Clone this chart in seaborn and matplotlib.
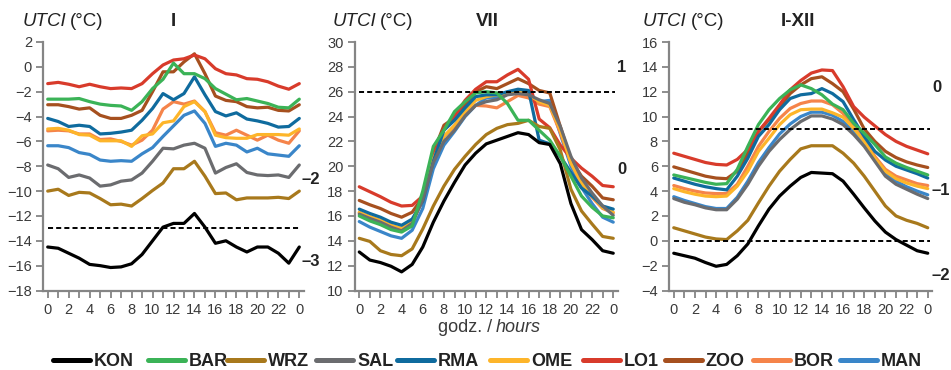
import numpy as np
import pandas as pd
import seaborn as sns
import matplotlib
matplotlib.use("Agg")
import matplotlib.pyplot as plt
from matplotlib.lines import Line2D

# hours 0..23 and back to 0 (shown as 24 on the axis)
hours = list(range(25))
hour_labels = [str(h % 24) if h % 2 == 0 else "" for h in hours]

stations = ["KON", "BAR", "WRZ", "SAL", "RMA", "OME", "LO1", "ZOO", "BOR", "MAN"]
colors = ["#000000", "#3bb357", "#a8791c", "#6b6c6f", "#0f6b9e",
          "#fdb52a", "#d83b2b", "#a6501f", "#f5844a", "#3a86c9"]

# January (I)
jan_kon = [-14.5, -14.6, -15.0, -15.4, -15.9, -16.0, -16.15, -16.1, -15.85, -15.1, -14.0, -12.9, -12.6,
           -12.6, -11.8, -12.9, -14.2, -14.0, -14.5, -14.9, -14.5, -14.5, -15.0, -15.8, -14.5]
jan_bar = [-2.6, -2.6, -2.6, -2.55, -2.8, -3.0, -3.1, -3.15, -3.5, -2.8, -1.75, -1.0, 0.3,
           -0.55, -0.55, -0.95, -1.75, -2.2, -2.65, -2.55, -2.75, -2.95, -3.25, -3.3, -2.6]
jan_wrz = [-10.0, -9.85, -10.35, -10.1, -10.15, -10.6, -11.1, -11.05, -11.2, -10.6, -9.95, -9.35, -8.2,
           -8.2, -7.6, -8.8, -10.2, -10.15, -10.7, -10.55, -10.55, -10.55, -10.5, -10.6, -10.0]
jan_sal = [-7.9, -8.2, -8.9, -8.7, -8.95, -9.6, -9.5, -9.2, -9.1, -8.55, -7.6, -6.55, -6.6,
           -6.3, -6.15, -6.55, -8.55, -8.1, -7.8, -8.5, -8.7, -8.75, -8.7, -8.9, -7.9]
jan_rma = [-4.15, -4.4, -4.8, -4.7, -4.8, -5.4, -5.35, -5.25, -5.1, -4.3, -3.35, -2.15, -2.65,
           -2.15, -0.8, -2.25, -3.6, -3.95, -3.7, -4.2, -4.35, -4.55, -4.85, -4.8, -4.15]
jan_ome = [-5.0, -4.95, -5.1, -5.45, -5.5, -5.95, -5.95, -5.95, -6.4, -5.55, -5.4, -4.5, -4.35,
           -3.2, -2.8, -3.6, -5.5, -5.7, -5.75, -5.75, -5.45, -5.45, -5.45, -5.5, -5.0]
jan_lo1 = [-1.35, -1.25, -1.4, -1.6, -1.4, -1.6, -1.75, -1.7, -1.75, -1.35, -0.55, 0.15, 0.55,
           0.65, 0.95, 0.65, -0.15, -0.55, -0.65, -0.95, -1.0, -1.2, -1.55, -1.8, -1.35]
jan_zoo = [-3.05, -3.05, -3.2, -3.4, -3.3, -3.9, -4.15, -4.15, -3.9, -3.5, -2.0, -0.4, -0.4,
           0.4, 1.05, -0.55, -2.35, -2.7, -2.8, -3.2, -3.3, -3.25, -3.5, -3.55, -3.05]
jan_bor = [-5.15, -5.1, -5.15, -5.4, -5.4, -5.85, -5.8, -6.0, -6.3, -5.9, -5.1, -3.4, -2.8,
           -3.0, -2.75, -3.6, -5.3, -5.5, -5.1, -5.5, -5.9, -5.5, -5.9, -6.15, -5.15]
jan_man = [-6.35, -6.35, -6.5, -6.9, -7.05, -7.5, -7.6, -7.55, -7.6, -7.0, -6.5, -5.6, -4.75,
           -3.9, -3.55, -4.55, -6.4, -6.15, -6.3, -6.85, -6.55, -7.0, -7.1, -7.2, -6.35]

# July (VII)
jul_kon = [13.1, 12.45, 12.25, 11.95, 11.5, 12.1, 13.5, 15.5, 17.2, 18.7, 20.1, 21.05, 21.8,
           22.1, 22.4, 22.7, 22.55, 21.9, 21.75, 20.2, 17.0, 14.9, 14.1, 13.2, 13.0]
jul_bar = [16.0, 15.6, 15.3, 14.9, 14.7, 15.2, 18.0, 21.6, 22.9, 24.4, 25.2, 25.9, 26.0,
           25.9, 25.05, 23.7, 23.7, 22.9, 22.1, 20.8, 19.2, 17.6, 16.7, 16.0, 15.85]
jul_wrz = [14.2, 13.95, 13.2, 12.9, 12.8, 13.35, 14.95, 16.8, 18.4, 19.75, 20.8, 21.75, 22.55,
           23.05, 23.35, 23.45, 23.7, 23.2, 23.05, 21.3, 18.15, 16.4, 15.35, 14.35, 14.2]
jul_sal = [16.15, 15.8, 15.5, 15.1, 14.8, 15.4, 17.3, 20.3, 22.0, 22.9, 24.05, 24.9, 25.2,
           25.35, 25.75, 25.85, 25.75, 25.35, 25.05, 23.2, 20.8, 19.05, 17.85, 16.8, 16.05]
jul_rma = [16.55, 16.2, 15.9, 15.5, 15.25, 15.75, 17.2, 20.4, 22.9, 23.7, 24.7, 25.6, 25.75,
           25.75, 26.0, 26.2, 26.1, 22.1, 21.8, 20.8, 19.5, 18.25, 17.6, 16.8, 16.55]
jul_ome = [16.3, 15.95, 15.65, 15.25, 15.0, 15.55, 17.4, 20.6, 22.4, 23.3, 24.4, 25.3, 25.6,
           25.75, 25.85, 26.0, 25.75, 25.2, 24.9, 22.9, 20.25, 18.65, 17.6, 16.65, 16.3]
jul_lo1 = [18.35, 17.95, 17.55, 17.1, 16.8, 16.85, 17.6, 20.8, 23.0, 24.0, 25.3, 26.2, 26.8,
           26.8, 27.35, 27.8, 27.0, 23.8, 23.1, 21.7, 20.65, 19.85, 19.2, 18.45, 18.35]
jul_zoo = [17.25, 16.9, 16.6, 16.2, 15.9, 16.3, 17.5, 21.1, 23.3, 23.9, 24.9, 26.0, 26.4,
           26.25, 26.65, 27.05, 26.65, 26.1, 25.9, 23.2, 20.5, 19.2, 18.4, 17.45, 17.3]
jul_bor = [16.25, 15.9, 15.6, 15.2, 14.95, 15.5, 17.3, 20.5, 22.4, 23.2, 24.2, 24.9, 24.85,
           24.7, 25.2, 25.7, 25.5, 25.0, 24.8, 22.7, 20.3, 18.6, 17.5, 16.6, 16.25]
jul_man = [15.55, 15.1, 14.75, 14.4, 14.2, 14.85, 16.6, 19.8, 21.7, 22.8, 24.0, 24.9, 25.5,
           25.5, 25.8, 26.0, 25.7, 25.2, 25.3, 22.6, 20.0, 18.3, 17.0, 15.9, 15.5]

# Year (I-XII)
yr_kon = [-1.0, -1.2, -1.4, -1.75, -2.05, -1.9, -1.2, -0.25, 1.2, 2.55, 3.6, 4.4, 5.1,
          5.5, 5.45, 5.4, 4.8, 3.75, 2.65, 1.6, 0.7, 0.1, -0.35, -0.8, -1.0]
yr_bar = [5.3, 5.1, 4.9, 4.7, 4.55, 4.6, 5.75, 7.6, 9.35, 10.55, 11.45, 12.15, 12.55,
          12.25, 11.75, 11.0, 10.55, 9.45, 8.65, 7.75, 6.75, 6.25, 5.9, 5.6, 5.3]
yr_wrz = [1.05, 0.8, 0.55, 0.3, 0.15, 0.1, 0.8, 1.65, 3.05, 4.4, 5.6, 6.55, 7.4,
          7.65, 7.65, 7.65, 7.05, 6.25, 5.2, 4.0, 2.8, 2.0, 1.65, 1.4, 1.05]
yr_sal = [3.4, 3.1, 2.9, 2.65, 2.5, 2.5, 3.35, 4.55, 6.0, 7.2, 8.15, 8.95, 9.6,
          10.05, 10.05, 9.8, 9.35, 8.55, 7.6, 6.4, 5.2, 4.55, 4.15, 3.75, 3.4]
yr_rma = [5.05, 4.8, 4.55, 4.35, 4.2, 4.1, 5.2, 6.65, 8.4, 9.35, 10.55, 11.45, 11.75,
          11.85, 12.25, 11.85, 11.2, 9.75, 8.4, 7.2, 6.5, 6.0, 5.7, 5.4, 5.05]
yr_ome = [4.2, 3.95, 3.75, 3.6, 3.55, 3.6, 4.4, 5.6, 7.2, 8.25, 9.35, 10.15, 10.55,
          10.6, 10.6, 10.3, 9.95, 9.05, 8.0, 6.65, 5.6, 5.0, 4.65, 4.4, 4.2]
yr_lo1 = [7.05, 6.8, 6.55, 6.3, 6.15, 6.1, 6.55, 7.35, 8.8, 9.85, 10.95, 12.15, 12.9,
          13.5, 13.75, 13.7, 12.4, 10.8, 9.95, 9.25, 8.55, 8.0, 7.6, 7.3, 7.0]
yr_zoo = [5.95, 5.7, 5.45, 5.2, 5.05, 5.0, 5.6, 7.05, 8.8, 9.75, 10.8, 11.85, 12.55,
          13.05, 13.2, 12.65, 12.0, 10.6, 9.0, 8.0, 7.2, 6.7, 6.35, 6.1, 5.9]
yr_bor = [4.45, 4.2, 4.0, 3.85, 3.8, 3.8, 4.55, 6.0, 7.6, 8.8, 9.85, 10.65, 11.05,
          11.25, 11.25, 10.95, 10.25, 9.2, 8.15, 6.8, 5.75, 5.2, 4.9, 4.6, 4.45]
yr_man = [3.55, 3.25, 3.0, 2.75, 2.6, 2.6, 3.5, 4.8, 6.3, 7.5, 8.6, 9.4, 10.0,
          10.35, 10.35, 10.1, 9.6, 8.8, 7.8, 6.6, 5.45, 4.8, 4.35, 4.0, 3.7]

panel_titles = ["I", "VII", "I-XII"]
panel_series = [
    [jan_kon, jan_bar, jan_wrz, jan_sal, jan_rma, jan_ome, jan_lo1, jan_zoo, jan_bor, jan_man],
    [jul_kon, jul_bar, jul_wrz, jul_sal, jul_rma, jul_ome, jul_lo1, jul_zoo, jul_bor, jul_man],
    [yr_kon, yr_bar, yr_wrz, yr_sal, yr_rma, yr_ome, yr_lo1, yr_zoo, yr_bor, yr_man],
]
y_ranges = [(-18, 2), (10, 30), (-4, 16)]
thresholds = [[-13], [26], [9, 0]]
# UTCI stress category labels on the right of each panel
category_labels = [["–2", "–3"], ["1", "0"], ["0", "–1", "–2"]]

W, H = 951, 370
sns.set_style("ticks")
plt.rcParams["font.family"] = ["Liberation Sans", "DejaVu Sans"]

fig = plt.figure(figsize=(W / 100, H / 100), dpi=100)

# axes boxes in pixels: left, right
boxes = [(43, 304), (354.5, 618), (669, 932.5)]
top_px, bot_px = 42, 290.5

palette = dict(zip(stations, colors))
spine_col = "#858585"
text_col = "#3a3a3a"
dark = "#222222"

for i, (l, r) in enumerate(boxes):
    ax = fig.add_axes([l / W, 1 - bot_px / H, (r - l) / W, (bot_px - top_px) / H])
    df = pd.DataFrame({
        "hour": np.tile(hours, len(stations)),
        "utci": np.concatenate(panel_series[i]),
        "station": np.repeat(stations, len(hours)),
    })
    # draw in reverse legend order so that KON ends on top
    sns.lineplot(data=df, x="hour", y="utci", hue="station", hue_order=stations[::-1],
                 palette=palette, linewidth=2.3, legend=False, ax=ax)
    for t in thresholds[i]:
        ax.hlines(t, 0, 24.2, colors="black", linestyles=(0, (2.6, 1.6)), linewidth=1.4, zorder=5)

    lo, hi = y_ranges[i]
    ax.set_ylim(lo, hi)
    ax.set_yticks(np.arange(lo, hi + 1, 2))
    ax.set_xlim(-0.45, 24.45)
    ax.set_xticks(hours)
    ax.set_xticklabels(hour_labels)
    ax.set_xlabel("")
    ax.set_ylabel("")
    sns.despine(ax=ax)
    for s in ["left", "bottom"]:
        ax.spines[s].set_color(spine_col)
        ax.spines[s].set_linewidth(1.6)
    ax.tick_params(axis="both", colors=spine_col, labelcolor=text_col, labelsize=10.5,
                   width=1.3, length=5)
    ax.tick_params(axis="x", pad=4)
    ax.tick_params(axis="y", pad=3)


def px(x, y):
    return x / W, 1 - y / H


# panel headings: "UTCI (°C)" and period
utci_x = [22.5, 332.5, 643]
title_x = [173.5, 487.5, 798]
for ux, tx, title in zip(utci_x, title_x, panel_titles):
    t = fig.text(*px(ux, 21.5), "UTCI", style="italic", fontsize=13.5, color=dark,
                 va="center", ha="left")
    fig.add_artist(plt.Annotation("(°C)", xy=(1, 0.5), xycoords=t, xytext=(4, 0),
                                  textcoords="offset pixels", fontsize=13.5, color=dark,
                                  va="center", ha="left"))
    fig.text(*px(tx, 21.5), title, fontsize=13.5, fontweight="bold", color=dark,
             va="center", ha="center")

# category labels at the right side
cat_pos = [[(302, 180), (302, 261)], [(617, 68), (617, 169)], [(932, 88), (932, 191), (932, 275)]]
for labels, pos in zip(category_labels, cat_pos):
    for lab, (x, y) in zip(labels, pos):
        fig.text(*px(x, y), lab, fontsize=12, fontweight="bold", color=dark,
                 va="center", ha="left")

# x axis title under middle panel
fig.text(*px(492, 327), "godz. /", fontsize=13, color=text_col, va="center", ha="right")
fig.text(*px(496, 327), "hours", fontsize=13, style="italic", color=text_col, va="center", ha="left")

# legend entries, placed one by one like the original
legend_x = [53, 148, 227, 316, 397, 490, 583, 665, 753, 840]
for name, c, lx in zip(stations, colors, legend_x):
    fig.legend([Line2D([0], [0], color=c, lw=3.6)], [name], loc="center left",
               bbox_to_anchor=px(lx, 362), frameon=False, borderpad=0, borderaxespad=0,
               prop={"weight": "bold", "size": 13}, handlelength=2.05,
               handletextpad=0.22, labelcolor=dark)

fig.savefig("out.png", dpi=100)
